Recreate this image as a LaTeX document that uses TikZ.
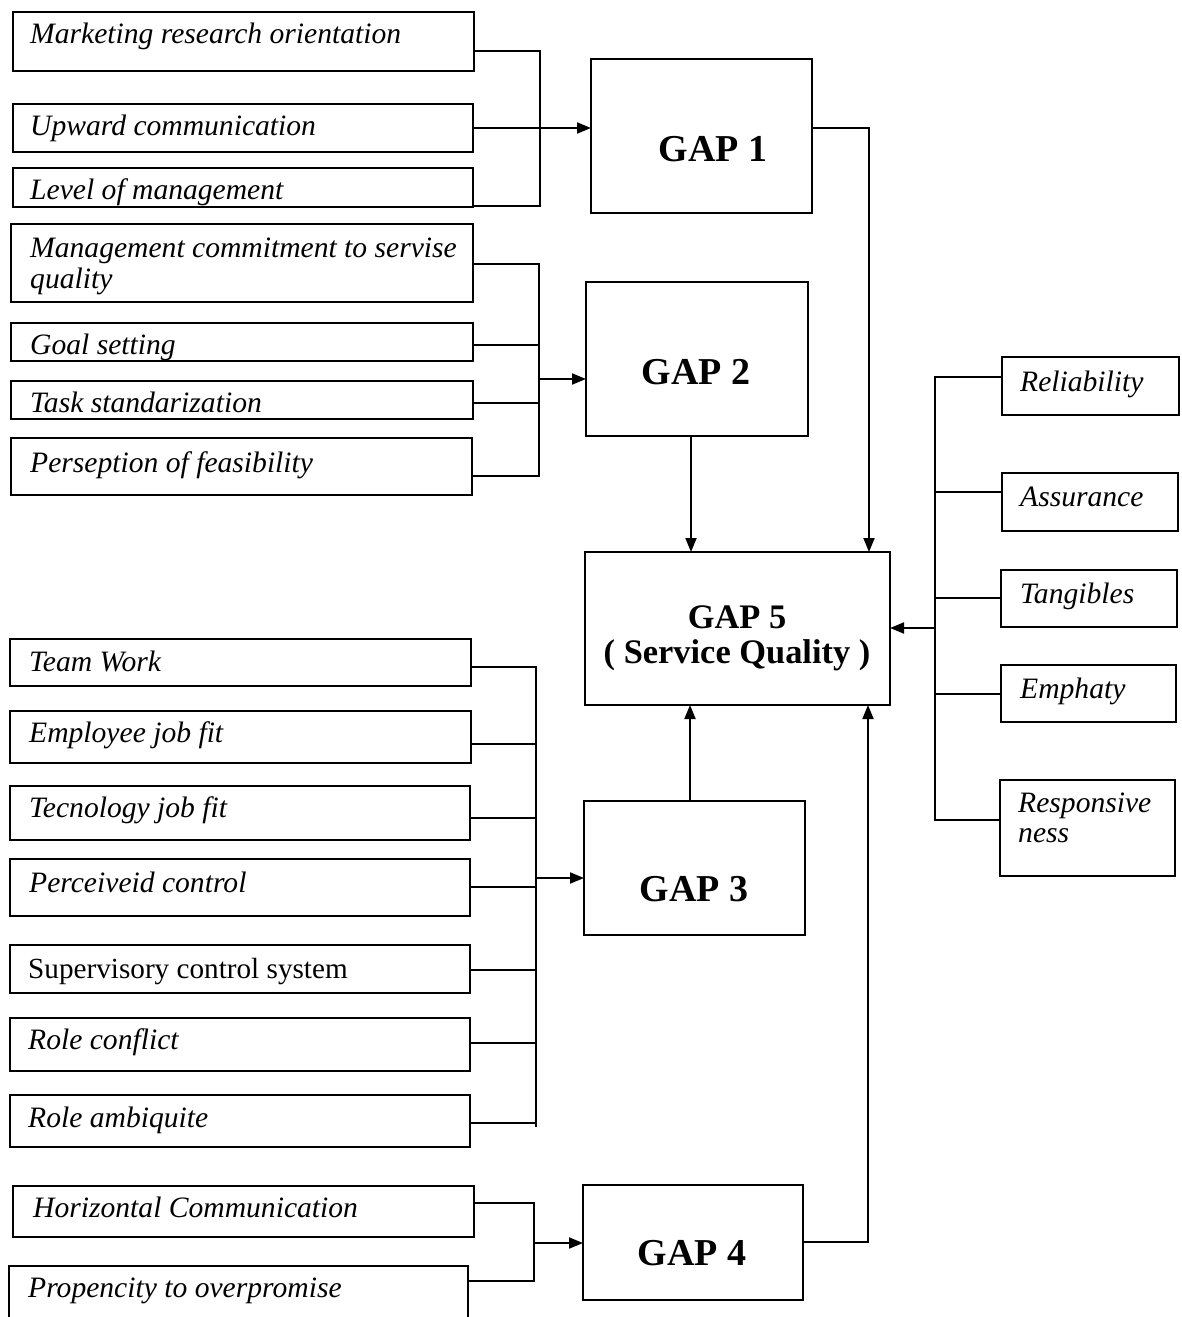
\documentclass[tikz,border=0pt]{standalone}
\usepackage{fontspec}
\setmainfont{Liberation Serif}
\usetikzlibrary{arrows.meta}
\newcommand\mkbox[5]{\node[box, minimum width={(#4-#2)*1pt}, minimum height={(#5-#3)*1pt}] (#1) at ({(#2+#4)/2},{(#3+#5)/2}) {};}
\begin{document}
\begin{tikzpicture}[x=1pt,y=-1pt,
  box/.style={draw, line width=1.9pt, inner sep=0pt, outer sep=0pt, rectangle},
  lbl/.style={anchor=base west, inner sep=0pt, font=\fontsize{29.6}{33}\selectfont\itshape},
  lblup/.style={anchor=base west, inner sep=0pt, font=\fontsize{29.2}{33}\selectfont},
  gaptxt/.style={anchor=base, inner sep=0pt, font=\fontsize{38}{42}\selectfont\bfseries},
  gapfive/.style={anchor=base, inner sep=0pt, font=\fontsize{34.4}{38}\selectfont\bfseries},
  con/.style={line width=1.9pt},
  arr/.style={con, -{Triangle[length=14pt,width=11pt]}}]
\clip (0,0) rectangle (1182,1317);
\fill[white] (0,0) rectangle (1182,1317);

% ---- left group 1
\mkbox{m1}{13}{12}{474}{71}
\mkbox{m2}{13}{104}{473}{152}
\mkbox{m3}{13}{168}{473}{207}
\node[lbl] (m1t) at (30,43) {Marketing research orientation};
\node[lbl] (m2t) at (30,135) {Upward communication};
\node[lbl] (m3t) at (30,199) {Level of management};

% ---- left group 2
\mkbox{m4}{11}{224}{473}{302}
\mkbox{m5}{11}{323}{473}{361}
\mkbox{m6}{11}{381}{473}{419}
\mkbox{m7}{11}{438}{472}{495}
\node[lbl] (m4t) at (30,257) {Management commitment to servise};
\node[lbl] (m4u) at (30,288) {quality};
\node[lbl] (m5t) at (30,354) {Goal setting};
\node[lbl] (m6t) at (30,412) {Task standarization};
\node[lbl] (m7t) at (30,472) {Perseption of feasibility};

% ---- left group 3
\mkbox{t1}{10}{639}{471}{686}
\mkbox{t2}{10}{711}{471}{763}
\mkbox{t3}{10}{786}{470}{840}
\mkbox{t4}{10}{859}{470}{916}
\mkbox{t5}{10}{945}{470}{993}
\mkbox{t6}{10}{1018}{470}{1071}
\mkbox{t7}{10}{1095}{470}{1147}
\node[lbl] (t1t) at (29,671) {Team Work};
\node[lbl] (t2t) at (29,742) {Employee job fit};
\node[lbl] (t3t) at (29,817) {Tecnology job fit};
\node[lbl] (t4t) at (29,892) {Perceiveid control};
\node[lblup] (t5t) at (28,978) {Supervisory control system};
\node[lbl] (t6t) at (28,1049) {Role conflict};
\node[lbl] (t7t) at (28,1127) {Role ambiquite};

% ---- left group 4
\mkbox{h1}{13}{1186}{474}{1237}
\mkbox{h2}{9}{1266}{468}{1335}
\node[lbl] (h1t) at (33,1217) {Horizontal Communication};
\node[lbl] (h2t) at (28,1297) {Propencity to overpromise};

% ---- gap boxes
\mkbox{g1}{591}{59}{812}{213}
\mkbox{g2}{586}{282}{808}{436}
\mkbox{g5}{585}{552}{890}{705}
\mkbox{g3}{584}{801}{805}{935}
\mkbox{g4}{583}{1185}{803}{1300}
\node[gaptxt] (g1t) at (713,161) {GAP 1};
\node[gaptxt] (g2t) at (696,384) {GAP 2};
\node[gapfive] (g5t) at (737,628) {GAP 5};
\node[gapfive] (g5u) at (737,663) {( Service Quality )};
\node[gaptxt] (g3t) at (694,901) {GAP 3};
\node[gaptxt] (g4t) at (692,1265) {GAP 4};

% ---- right group
\mkbox{r1}{1002}{357}{1179}{415}
\mkbox{r2}{1002}{473}{1178}{531}
\mkbox{r3}{1001}{570}{1177}{627}
\mkbox{r4}{1001}{665}{1176}{722}
\mkbox{r5}{1000}{780}{1175}{876}
\node[lbl] (r1t) at (1020,391) {Reliability};
\node[lbl] (r2t) at (1020,506) {Assurance};
\node[lbl] (r3t) at (1020,603) {Tangibles};
\node[lbl] (r4t) at (1020,698) {Emphaty};
\node[lbl] (r5t) at (1018,812) {Responsive};
\node[lbl] (r5u) at (1018,842) {ness};

% ---- junction coordinates
\coordinate (j1) at (540,128);
\coordinate (j2) at (539,379);
\coordinate (j3) at (536,878);
\coordinate (j4) at (534,1243);
\coordinate (j5) at (935,628);

% ---- connectors group 1
\draw[con] (m1.east |- 0,51) -- (540,51) -- (540,206) -- (m3.east |- 0,206);
\draw[con] (m2.east |- 0,128) -- (j1);
\draw[arr] (j1) -- (g1.west |- j1);

% ---- connectors group 2
\draw[con] (m4.east |- 0,264) -- (539,264) -- (539,476) -- (m7.east |- 0,476);
\draw[con] (m5.east |- 0,345) -- (539,345);
\draw[con] (m6.east |- 0,403) -- (539,403);
\draw[arr] (j2) -- (g2.west |- j2);

% ---- connectors group 3
\draw[con] (t1.east |- 0,667) -- (536,667) -- (536,1127);
\draw[con] (t7.east |- 0,1123) -- (536,1123);
\draw[con] (t2.east |- 0,744) -- (536,744);
\draw[con] (t3.east |- 0,818) -- (536,818);
\draw[con] (t4.east |- 0,887) -- (536,887);
\draw[con] (t5.east |- 0,970) -- (536,970);
\draw[con] (t6.east |- 0,1043) -- (536,1043);
\draw[arr] (j3) -- (g3.west |- j3);

% ---- connectors group 4
\draw[con] (h1.east |- 0,1203) -- (534,1203) -- (534,1281) -- (h2.east |- 0,1281);
\draw[arr] (j4) -- (g4.west |- j4);

% ---- right group connectors
\draw[con] (r1.west |- 0,377) -- (935,377) -- (935,820) -- (r5.west |- 0,820);
\draw[con] (r2.west |- 0,492) -- (935,492);
\draw[con] (r3.west |- 0,598) -- (935,598);
\draw[con] (r4.west |- 0,694) -- (935,694);
\draw[arr] (j5) -- (g5.east |- j5);

% ---- gaps to GAP 5
\draw[arr] (g1.east |- 0,128) -| (g5.north -| 869,0);
\draw[arr] (g2.south -| 691,0) -- (g5.north -| 691,0);
\draw[arr] (g3.north -| 690,0) -- (g5.south -| 690,0);
\draw[arr] (g4.east |- 0,1242) -| (g5.south -| 868,0);
\end{tikzpicture}
\end{document}
